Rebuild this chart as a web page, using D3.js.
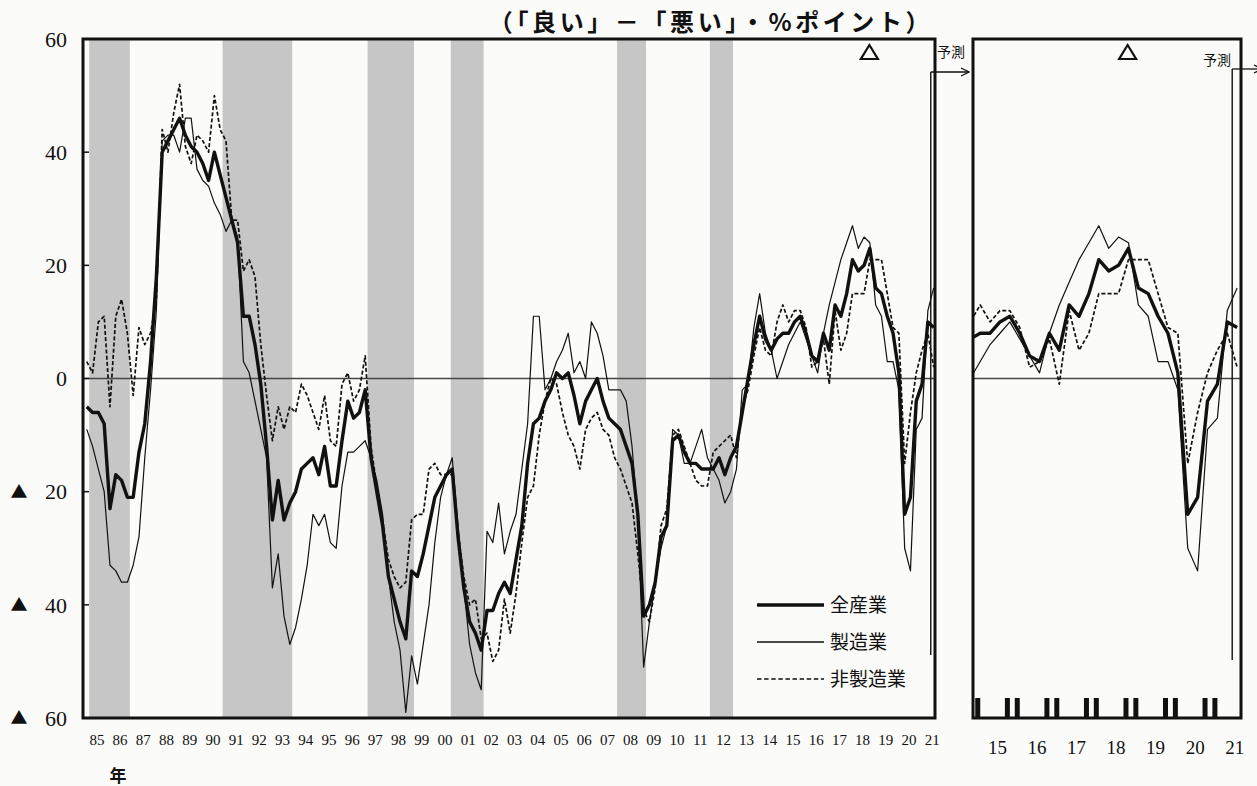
<!DOCTYPE html>
<html lang="ja">

<head>
  <meta charset="UTF-8">
  <title>業況判断DI</title>
  <style>
    body { margin: 0; background: #fbfbf9; }
    svg { display: block; }
    .num { font-family: "Liberation Serif", "DejaVu Serif", serif; fill: #111; }
    .jp { font-family: "Noto Sans CJK JP", "Noto Sans", sans-serif; fill: #111; }
  </style>
</head>

<body>
  <svg></svg>
  <script src="https://cdn.jsdelivr.net/npm/d3@7"></script>
  <script>
    // 四半期データ：1985年3月調査から2021年9月（予測）まで、1行＝1年
    var allInd = [
      -5, -6, -6, -8,
      -23, -17, -18, -21,
      -21, -13, -8, 3,
      18, 40, 42, 44,
      46, 43, 41, 40,
      38, 35, 40, 36,
      32, 28, 24, 11,
      11, 6, -1, -12,
      -25, -18, -25, -22,
      -20, -16, -15, -14,
      -17, -12, -19, -19,
      -11, -4, -7, -6,
      -2, -14, -20, -26,
      -35, -39, -43, -46,
      -34, -35, -31, -26,
      -21, -19, -17, -16,
      -28, -37, -43, -45,
      -48, -41, -41, -38,
      -36, -38, -32, -26,
      -15, -8, -7, -4,
      -2, 1, 0, 1,
      -3, -8, -4, -2,
      0, -4, -7, -8,
      -9, -12, -15, -24,
      -42, -40, -36, -28,
      -26, -11, -10, -13,
      -15, -15, -16, -16,
      -16, -14, -17, -14,
      -12, -6, 0, 6,
      11, 7, 5, 7,
      8, 8, 10, 11,
      8, 4, 3, 8,
      5, 13, 11, 15,
      21, 19, 20, 23,
      16, 15, 11, 8,
      1, -24, -21, -4,
      -1, 10, 9
    ];
    var mfg = [
      -9, -12, -16, -20,
      -33, -34, -36, -36,
      -33, -28, -14, -2,
      12, 42, 43, 43,
      40, 46, 46, 37,
      35, 34, 31, 29,
      26, 28, 25, 3,
      1, -4, -9, -14,
      -37, -31, -42, -47,
      -44, -39, -33, -24,
      -26, -24, -29, -30,
      -19, -13, -13, -12,
      -11, -14, -18, -24,
      -35, -43, -48, -59,
      -49, -54, -47, -40,
      -29, -21, -17, -14,
      -26, -37, -47, -52,
      -55, -27, -29, -22,
      -31, -27, -24, -16,
      -8, 11, 11, -2,
      0, 3, 5, 8,
      1, 3, 0, 10,
      8, 4, -2, -2,
      -2, -4, -12, -25,
      -51, -43, -36, -30,
      -26, -9, -10, -15,
      -15, -12, -9, -14,
      -16, -18, -22, -20,
      -16, -2, -1, 9,
      15, 8, 5, 0,
      3, 6, 8, 10,
      7, 4, 1, 8,
      13, 17, 21, 24,
      27, 23, 25, 24,
      13, 11, 3, 3,
      -2, -30, -34, -9,
      -7, 12, 16
    ];
    var nonMfg = [
      3, 1, 10, 11,
      -5, 11, 14, 8,
      -3, 9, 6, 8,
      14, 44, 40, 47,
      52, 41, 38, 43,
      42, 40, 50, 44,
      42, 28, 28, 19,
      21, 18, 6, -3,
      -11, -5, -9, -5,
      -6, -1, -3, -6,
      -9, -3, -11, -12,
      -1, 1, -4, -2,
      4, -12, -19, -25,
      -32, -35, -37, -36,
      -25, -24, -24, -16,
      -15, -17, -17, -17,
      -27, -35, -40, -39,
      -46, -45, -50, -48,
      -39, -45, -38, -29,
      -21, -19, -10, -4,
      0, -1, -6, -10,
      -12, -16, -9, -7,
      -6, -9, -10, -14,
      -16, -19, -22, -31,
      -41, -43, -37, -26,
      -23, -10, -9, -12,
      -15, -18, -19, -19,
      -13, -12, -11, -10,
      -14, -5, -2, 4,
      9, 5, 4, 10,
      13, 10, 12, 12,
      9, 2, 3, 7,
      -1, 12, 5, 8,
      15, 15, 15, 21,
      21, 21, 15, 9,
      8, -15, -6, 1,
      5, 8, 2
    ];
    var firstYear = 1985;
    var lastActual = 145; // 2021年6月まで実績、最後の1点は予測

    var mainYears = d3.range(1985, 2022);
    var zoomYears = d3.range(2015, 2022);
    var yTicks = [60, 40, 20, 0, -20, -40, -60];
    // 景気後退期（シャドー）
    var recessions = [
      ["1985-03", "1986-11"],
      ["1990-12", "1993-11"],
      ["1997-03", "1999-02"],
      ["2000-10", "2002-02"],
      ["2007-12", "2009-02"],
      ["2011-12", "2012-11"]
    ];
    var peakMonth = "2018-10";
    var zoomTicks = [2015, 2015.75, 2016, 2016.75, 2017, 2017.75, 2018, 2018.75,
      2019, 2019.75, 2020, 2020.75, 2021];
    var names = ["全産業", "製造業", "非製造業"];

    var title = "（「良い」－「悪い」・%ポイント）";

    function quarterTime(i) { return firstYear + (i + 0.25) / 4; }
    function monthStart(s) { var p = s.split("-"); return +p[0] + (+p[1] - 1) / 12; }
    function monthEnd(s) { var p = s.split("-"); return +p[0] + (+p[1]) / 12; }
    function monthMid(s) { var p = s.split("-"); return +p[0] + (+p[1] - 0.5) / 12; }

    var series = [
      { name: names[2], values: nonMfg, width: 1.7, dash: "4,2.2" },
      { name: names[1], values: mfg, width: 1.2, dash: null },
      { name: names[0], values: allInd, width: 3.4, dash: null }
    ];

    var svg = d3.select("svg").attr("width", 1257).attr("height", 786);
    svg.append("rect").attr("width", 1257).attr("height", 786).attr("fill", "#fbfbf9");
    var defs = svg.append("defs");
    defs.append("marker")
      .attr("id", "arrow")
      .attr("viewBox", "0 0 10 10")
      .attr("refX", 9).attr("refY", 5)
      .attr("markerWidth", 10).attr("markerHeight", 10)
      .attr("markerUnits", "userSpaceOnUse")
      .attr("orient", "auto")
      .append("path")
      .attr("d", "M1,1 L9,5 L1,9")
      .attr("fill", "none").attr("stroke", "#111").attr("stroke-width", 1.3);

    var y = d3.scaleLinear().domain([-60, 60]).range([718, 39]);
    var xMain = d3.scaleLinear().domain([1984.9, 2021.62]).range([83, 935]);
    var xZoom = d3.scaleLinear().domain([2014.88, 2021.66]).range([973, 1241]);

    var forecastTime = (quarterTime(lastActual) + quarterTime(lastActual + 1)) / 2;

    function drawPanel(x, id, showBands, fc) {
      var left = x.range()[0], right = x.range()[1];
      var top = y(60), bottom = y(-60);

      defs.append("clipPath").attr("id", id).append("rect")
        .attr("x", left).attr("y", top)
        .attr("width", right - left).attr("height", bottom - top);

      var plot = svg.append("g").attr("clip-path", "url(#" + id + ")");

      if (showBands) {
        plot.selectAll("rect.band")
          .data(recessions)
          .join("rect")
          .attr("class", "band")
          .attr("x", d => x(monthStart(d[0])))
          .attr("width", d => x(monthEnd(d[1])) - x(monthStart(d[0])))
          .attr("y", top)
          .attr("height", bottom - top)
          .attr("fill", "#c6c6c6");
      }

      // ゼロ線
      plot.append("line")
        .attr("x1", left).attr("x2", right)
        .attr("y1", y(0)).attr("y2", y(0))
        .attr("stroke", "#444").attr("stroke-width", 1.3);

      var line = d3.line()
        .x((d, i) => x(quarterTime(i)))
        .y(d => y(d));

      plot.selectAll("path.series")
        .data(series)
        .join("path")
        .attr("class", "series")
        .attr("d", d => line(d.values))
        .attr("fill", "none")
        .attr("stroke", "#111")
        .attr("stroke-width", d => d.width)
        .attr("stroke-dasharray", d => d.dash)
        .attr("stroke-linejoin", "round");

      // 予測の区切り
      var fx = x(forecastTime);
      svg.append("line")
        .attr("x1", fx).attr("x2", fx)
        .attr("y1", fc.top).attr("y2", fc.bottom)
        .attr("stroke", "#111").attr("stroke-width", 1.4);
      svg.append("line")
        .attr("x1", fx).attr("x2", fc.arrowTo)
        .attr("y1", fc.top).attr("y2", fc.top)
        .attr("stroke", "#111").attr("stroke-width", 1.3)
        .attr("marker-end", "url(#arrow)");
      svg.append("text")
        .attr("class", "jp")
        .attr("x", fc.labelX).attr("y", fc.labelY)
        .attr("font-size", 14)
        .text("予測");

      // 枠
      svg.append("rect")
        .attr("x", left).attr("y", top)
        .attr("width", right - left).attr("height", bottom - top)
        .attr("fill", "none").attr("stroke", "#111").attr("stroke-width", 3);

      // 景気の山
      var px = x(monthMid(peakMonth));
      svg.append("path")
        .attr("d", `M${px},${top + 6} L${px + 8.5},${top + 20} L${px - 8.5},${top + 20} Z`)
        .attr("fill", "none").attr("stroke", "#111").attr("stroke-width", 2.2);
    }

    drawPanel(xMain, "clipMain", true, { top: 72, bottom: 655, arrowTo: 969, labelX: 937, labelY: 57 });
    drawPanel(xZoom, "clipZoom", false, { top: 69, bottom: 660, arrowTo: 1262, labelX: 1203, labelY: 65 });

    // 縦軸
    var yAxis = svg.append("g");
    yAxis.selectAll("text.val")
      .data(yTicks)
      .join("text")
      .attr("class", "num val")
      .attr("x", 67)
      .attr("y", d => y(d))
      .attr("dy", "0.35em")
      .attr("text-anchor", "end")
      .attr("font-size", 22)
      .text(d => Math.abs(d));
    yAxis.selectAll("text.neg")
      .data(yTicks.filter(d => d < 0))
      .join("text")
      .attr("class", "jp neg")
      .attr("x", 19)
      .attr("y", d => y(d))
      .attr("dy", "0.38em")
      .attr("text-anchor", "middle")
      .attr("font-size", 17)
      .text("▲");
    yAxis.selectAll("line")
      .data(yTicks.slice(1, -1))
      .join("line")
      .attr("x1", xMain.range()[0]).attr("x2", xMain.range()[0] + 6)
      .attr("y1", d => y(d)).attr("y2", d => y(d))
      .attr("stroke", "#111").attr("stroke-width", 1.5);

    // 横軸
    var fmt = d3.format("02");
    svg.append("g").selectAll("text")
      .data(mainYears)
      .join("text")
      .attr("class", "num")
      .attr("x", d => xMain(d + 0.5))
      .attr("y", 740)
      .attr("dy", "0.35em")
      .attr("text-anchor", "middle")
      .attr("font-size", 15)
      .text(d => fmt(d % 100));
    svg.append("g").selectAll("text")
      .data(zoomYears)
      .join("text")
      .attr("class", "num")
      .attr("x", d => xZoom(d + 0.5))
      .attr("y", 747)
      .attr("dy", "0.35em")
      .attr("text-anchor", "middle")
      .attr("font-size", 19)
      .text(d => fmt(d % 100));
    svg.append("g").selectAll("rect")
      .data(zoomTicks)
      .join("rect")
      .attr("x", d => xZoom(d) - 2.5)
      .attr("width", 5)
      .attr("y", y(-60) - 20)
      .attr("height", 20)
      .attr("fill", "#111");

    svg.append("text")
      .attr("class", "jp")
      .attr("x", 118).attr("y", 776)
      .attr("dy", "0.35em")
      .attr("text-anchor", "middle")
      .attr("font-size", 17)
      .attr("font-weight", "bold")
      .text("年");

    svg.append("text")
      .attr("class", "jp")
      .attr("x", 711).attr("y", 22)
      .attr("dy", "0.36em")
      .attr("text-anchor", "middle")
      .attr("font-size", 24)
      .attr("font-weight", "bold")
      .attr("letter-spacing", 3.6)
      .text(title);

    // 凡例
    var legend = svg.append("g").attr("transform", "translate(757, 605)");
    var legendItems = series.slice().reverse();
    legendItems.forEach(function (d, i) {
      var row = legend.append("g").attr("transform", `translate(0, ${i * 37})`);
      row.append("line")
        .attr("x1", 0).attr("x2", 67)
        .attr("stroke", "#111")
        .attr("stroke-width", d.width === 1.2 ? 1.4 : d.width)
        .attr("stroke-dasharray", d.dash ? "4.5,2.6" : null);
      row.append("text")
        .attr("class", "jp")
        .attr("x", 73).attr("dy", "0.36em")
        .attr("font-size", 19)
        .text(d.name);
    });
  </script>
</body>

</html>
